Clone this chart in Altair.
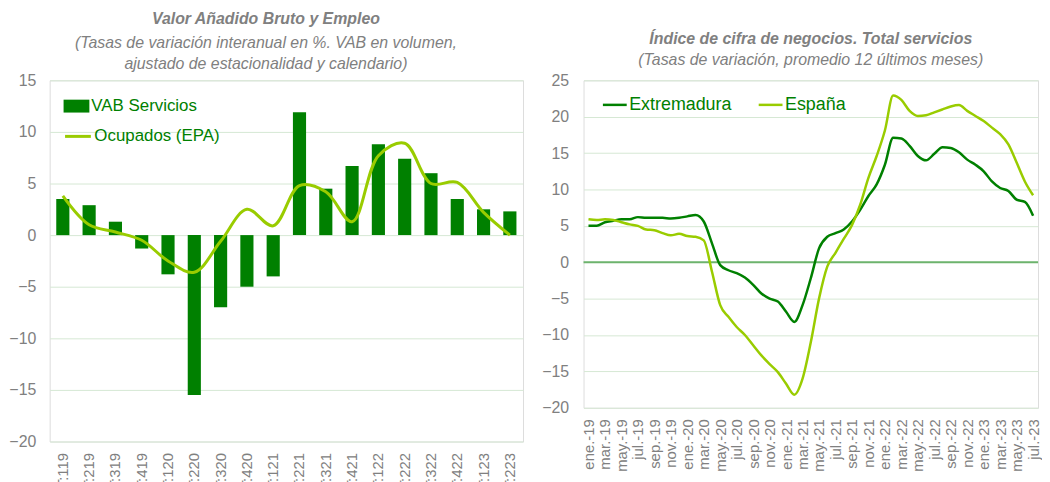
import altair as alt
import pandas as pd

# ---------------- Data: left panel (quarters) ----------------
trimestres = ["T:119", "T:219", "T:319", "T:419", "T:120", "T:220", "T:320", "T:420",
              "T:121", "T:221", "T:321", "T:421", "T:122", "T:222", "T:322", "T:422",
              "T:123", "T:223"]
vab_servicios = [3.5, 2.9, 1.3, -1.3, -3.8, -15.5, -7.0, -5.0, -4.0, 11.9, 4.5, 6.7,
                 8.8, 7.4, 6.0, 3.5, 2.5, 2.3]
ocupados_epa = [3.8, 1.0, 0.3, -0.5, -2.5, -3.6, -0.6, 2.5, 0.9, 4.8, 4.2, 1.3,
                7.7, 8.9, 5.0, 5.1, 2.2, 0.0]

# ---------------- Data: right panel (months) ----------------
meses = ["ene.", "feb.", "mar.", "abr.", "may.", "jun.", "jul.", "ago.", "sep.", "oct.", "nov.", "dic."]
anios = ["19", "20", "21", "22", "23"]
n_meses = 55  # ene.-19 .. jul.-23
etiquetas_mes = [f"{meses[k % 12]}-{anios[k // 12]}" for k in range(n_meses)]

extremadura = [5.0, 5.0, 5.5, 5.7, 5.9, 5.9, 6.2, 6.1, 6.1, 6.1, 6.0, 6.1, 6.3, 6.5, 5.6,
               2.6, -0.4, -1.1, -1.5, -2.1, -3.1, -4.3, -5.0, -5.4, -6.8, -8.2, -5.9, -2.2,
               1.9, 3.5, 4.0, 4.5, 5.6, 7.2, 9.1, 10.7, 13.4, 17.1, 17.0, 16.0, 14.6, 14.0,
               14.9, 15.8, 15.7, 15.1, 14.1, 13.4, 12.5, 11.1, 10.2, 9.8, 8.6, 8.3, 6.4]
espana = [5.9, 5.8, 5.9, 5.8, 5.5, 5.2, 5.0, 4.5, 4.4, 4.0, 3.7, 3.9, 3.6, 3.5, 3.0,
          -1.3, -5.9, -7.5, -8.9, -10.0, -11.4, -12.8, -14.0, -15.1, -16.7, -18.2, -16.0,
          -11.0, -5.0, -0.6, 1.3, 3.2, 5.1, 7.9, 11.6, 14.6, 18.1, 22.9, 22.3, 20.8, 20.1,
          20.2, 20.6, 21.0, 21.4, 21.6, 20.8, 20.1, 19.4, 18.5, 17.6, 16.2, 13.7, 11.1, 9.2]

series_der = ["Extremadura", "España"]

# ---------------- Style ----------------
FONT = "Liberation Sans"
GRAY = "#808080"
DARK = "#008000"
LIGHT = "#99CC00"
GRID = "#D6E8D4"
ZERO = "#6DB36D"

def y_axis(pad):
    return alt.Axis(title=None, values=list(range(-20, 26, 5)), grid=True, gridColor=GRID,
                    gridWidth=1, domain=False, ticks=False, labelColor=GRAY,
                    labelFontSize=16, labelFont=FONT, labelPadding=pad,
                    minExtent=40, maxExtent=40)

# ---------------- Left panel ----------------
dfL = pd.DataFrame({
    "t": trimestres,
    "vab": vab_servicios,
    "ocu": ocupados_epa,
    "s1": ["VAB Servicios"] * len(trimestres),
    "s2": ["Ocupados (EPA)"] * len(trimestres),
})

xL = alt.X("t:N", sort=trimestres,
           scale=alt.Scale(paddingInner=0.5, paddingOuter=0.25),
           axis=alt.Axis(title=None, labelAngle=-90, labelColor=GRAY, labelFontSize=15,
                         labelFont=FONT, ticks=False, domain=False, labelPadding=11))
yL_scale = alt.Scale(domain=[-20, 15], nice=False, zero=False)

bars = alt.Chart(dfL).mark_bar().encode(
    x=xL,
    y=alt.Y("vab:Q", scale=yL_scale, axis=y_axis(14)),
    fill=alt.Fill("s1:N", scale=alt.Scale(range=[DARK]),
                  legend=alt.Legend(title=None, orient="none", legendX=14, legendY=13,
                                    symbolType="M-1,-0.5H1V0.5H-1Z", symbolSize=676,
                                    symbolStrokeWidth=0, labelColor=DARK,
                                    labelFontSize=17, labelFont=FONT, labelOffset=2,
                                    padding=0)),
)
line = alt.Chart(dfL).mark_line(interpolate="catmull-rom", strokeWidth=3).encode(
    x=xL,
    y=alt.Y("ocu:Q", scale=yL_scale, axis=y_axis(14)),
    stroke=alt.Stroke("s2:N", scale=alt.Scale(range=[LIGHT]),
                      legend=alt.Legend(title=None, orient="none", legendX=14, legendY=42,
                                        symbolType="stroke", symbolSize=676,
                                        symbolStrokeWidth=3, labelColor=DARK,
                                        labelFontSize=17, labelFont=FONT, labelOffset=2,
                                        padding=0)),
)

left = alt.layer(bars, line).resolve_legend(fill="independent", stroke="independent").properties(
    width=477, height=364,
    title=alt.TitleParams(
        text="Valor Añadido Bruto y Empleo",
        subtitle=["(Tasas de variación interanual en %. VAB en volumen,",
                  "ajustado de estacionalidad y calendario)"],
        font=FONT, fontSize=16, fontStyle="italic", fontWeight="bold", color=GRAY,
        subtitleFont=FONT, subtitleFontSize=16, subtitleFontStyle="italic",
        subtitleColor=GRAY, subtitleLineHeight=22, subtitlePadding=8,
        anchor="middle", frame="bounds", offset=0),
)

# ---------------- Right panel ----------------
dfR = pd.DataFrame({
    "mes": etiquetas_mes * 2,
    "valor": extremadura + espana,
    "serie": [series_der[0]] * n_meses + [series_der[1]] * n_meses,
})
yR_scale = alt.Scale(domain=[-20, 25], nice=False, zero=False)

xR = alt.X("mes:N", sort=etiquetas_mes, scale=alt.Scale(type="point", padding=0.6),
           axis=alt.Axis(title=None, values=etiquetas_mes[::2], labelAngle=-90,
                         labelColor=GRAY, labelFontSize=15, labelFont=FONT,
                         ticks=False, domain=False, labelPadding=11))

zero_rule = alt.Chart(pd.DataFrame({"y": [0]})).mark_rule(color=ZERO, strokeWidth=2).encode(
    y=alt.Y("y:Q", scale=yR_scale, axis=y_axis(15)))

lines = alt.Chart(dfR).mark_line(interpolate="monotone", strokeWidth=2.5).encode(
    x=xR,
    y=alt.Y("valor:Q", scale=yR_scale, axis=y_axis(15)),
    stroke=alt.Stroke("serie:N", sort=series_der,
                      scale=alt.Scale(domain=series_der, range=[DARK, LIGHT]),
                      legend=alt.Legend(title=None, orient="none", legendX=18, legendY=11,
                                        direction="horizontal", symbolType="stroke",
                                        symbolSize=576, symbolStrokeWidth=2.5,
                                        labelColor=DARK, labelFontSize=18, labelFont=FONT,
                                        labelOffset=1, columnPadding=21, padding=0)),
)

right = alt.layer(zero_rule, lines).properties(
    width=458, height=330,
    title=alt.TitleParams(
        text="Índice de cifra de negocios. Total servicios",
        subtitle=["(Tasas de variación, promedio 12 últimos meses)"],
        font=FONT, fontSize=16, fontStyle="italic", fontWeight="bold", color=GRAY,
        subtitleFont=FONT, subtitleFontSize=16, subtitleFontStyle="italic",
        subtitleColor=GRAY, subtitleLineHeight=21, subtitlePadding=6,
        anchor="middle", frame="group", offset=4),
)

chart = (
    alt.hconcat(left, right, spacing=17)
    .resolve_scale(stroke="independent", fill="independent", x="independent", y="independent")
    .resolve_legend(stroke="independent", fill="independent")
    .properties(padding=0)
    .configure_view(stroke=None)
    .configure(font=FONT)
)

chart.save("out.html", embed_options={"renderer": "svg", "actions": False})
